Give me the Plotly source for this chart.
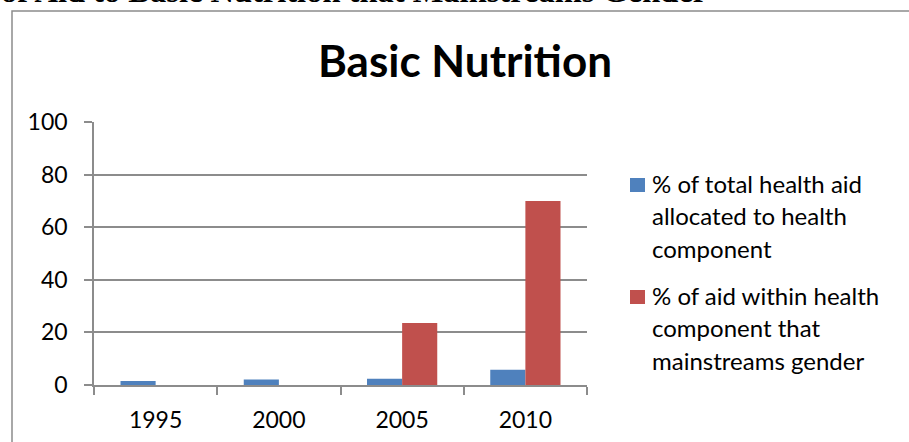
import plotly.graph_objects as go

# Chart data
years = ["1995", "2000", "2005", "2010"]
health_share = [1.5, 2.1, 2.4, 5.8]          # % of total health aid allocated to health component
gender_share = [0, 0, 23.6, 70]              # % of aid within health component that mainstreams gender
y_ticks = [0, 20, 40, 60, 80, 100]

series_names = [
    ["% of total health aid", "allocated to health", "component"],
    ["% of aid within health", "component that", "mainstreams gender"],
]
chart_title = "Basic Nutrition"
heading = "of Aid to Basic Nutrition that Mainstreams Gender"

BLUE = "#4F81BD"
RED = "#C0504D"
GRID = "#8c8c8c"
FONT = "Lato"

W, H = 909, 442
L, R, T, B = 94, 322, 122, 57
PW, PH = W - L - R, H - T - B


def px(x):
    return (x - L) / PW


def py(y):
    return (H - B - y) / PH


fig = go.Figure()
fig.add_trace(go.Bar(x=years, y=health_share, marker=dict(color=BLUE, line=dict(width=0)),
                     name=" ".join(series_names[0])))
fig.add_trace(go.Bar(x=years, y=gender_share, marker=dict(color=RED, line=dict(width=0)),
                     name=" ".join(series_names[1])))

annotations = [
    dict(text="<b>" + chart_title + "</b>", x=px(465), y=py(60), xref="paper", yref="paper",
         xanchor="center", yanchor="middle", showarrow=False,
         font=dict(family=FONT, size=44, color="black")),
    dict(text="<b>" + heading + "</b>", x=px(-1), y=py(11), xref="paper", yref="paper",
         xanchor="left", yanchor="bottom", showarrow=False,
         font=dict(family="Liberation Serif", size=32.5, color="black")),
]
shapes = [
    # outer chart frame
    dict(type="rect", xref="paper", yref="paper", x0=px(12), x1=px(930), y0=py(11), y1=py(470),
         line=dict(color=GRID, width=1.5), fillcolor="rgba(0,0,0,0)", layer="below"),
]

# legend: colour square plus wrapped label lines
entry_tops = [185, 297]
line_step = 32.5
for colour, lines, yc in zip([BLUE, RED], series_names, entry_tops):
    shapes.append(dict(type="rect", xref="paper", yref="paper", x0=px(630), x1=px(645),
                       y0=py(yc - 7), y1=py(yc + 7), line=dict(width=0), fillcolor=colour))
    for i, line in enumerate(lines):
        annotations.append(dict(text=line, x=px(650), y=py(yc - 2 + i * line_step),
                                xref="paper", yref="paper", xanchor="left", yanchor="middle",
                                showarrow=False, font=dict(family=FONT, size=24, color="black")))

fig.update_layout(
    width=W, height=H,
    margin=dict(l=L, r=R, t=T, b=B),
    paper_bgcolor="white", plot_bgcolor="white",
    barmode="group", bargap=0.43, bargroupgap=0,
    showlegend=False,
    font=dict(family=FONT, size=23, color="black"),
    annotations=annotations, shapes=shapes,
    xaxis=dict(type="category", automargin=False, showline=True, linecolor=GRID, linewidth=1.5,
               ticks="outside", tickson="boundaries", ticklen=8, tickcolor=GRID, tickwidth=1.5,
               ticklabelstandoff=14, showgrid=False, zeroline=False,
               tickfont=dict(family=FONT, size=23, color="black")),
    yaxis=dict(range=[0, 100], tickvals=y_ticks, automargin=False, showline=True,
               linecolor=GRID, linewidth=1.5,
               ticks="outside", ticklen=8, tickcolor=GRID, tickwidth=1.5,
               ticklabelstandoff=12, showgrid=True, gridcolor=GRID, gridwidth=1.5,
               zeroline=False, tickfont=dict(family=FONT, size=23, color="black")),
)

fig.write_html("out.html")
